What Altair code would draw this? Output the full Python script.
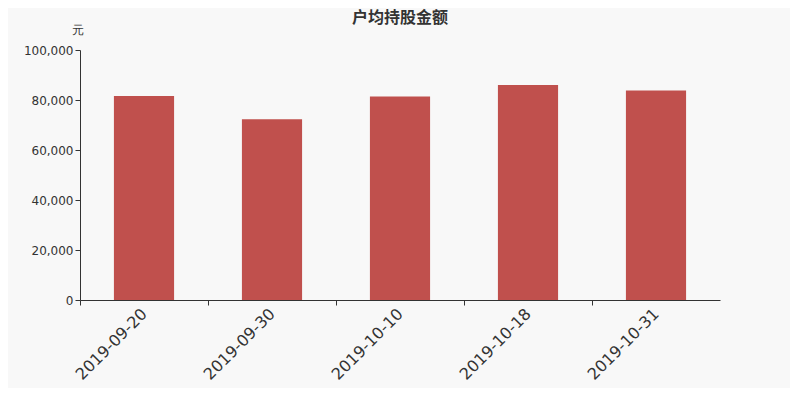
import altair as alt
import pandas as pd

dates = ["2019-09-20", "2019-09-30", "2019-10-10", "2019-10-18", "2019-10-31"]
values = [81600, 72300, 81400, 86000, 83800]

df = pd.DataFrame({"date": dates, "value": values})

chart = alt.Chart(df).mark_bar(color="#c0504d").encode(
    x=alt.X("date:N", sort=dates,
            scale=alt.Scale(paddingInner=0.53, paddingOuter=0.265),
            axis=alt.Axis(title=None, labelAngle=-45, labelFontSize=16,
                          labelColor="#333333", labelFont="DejaVu Sans",
                          labelAlign="right", labelBaseline="middle",
                          labelPadding=6,
                          tickOffset=-64, labelOffset=64,
                          tickSize=5, tickColor="#333333",
                          domainColor="#333333")),
    y=alt.Y("value:Q", scale=alt.Scale(domain=[0, 100000]),
            axis=alt.Axis(title="元", titleAngle=0, titleX=-3, titleY=-21,
                          titleAlign="center", titleBaseline="middle",
                          titleFontSize=12, titleFontWeight="normal",
                          titleColor="#333333", titleFont="DejaVu Sans",
                          values=[0, 20000, 40000, 60000, 80000, 100000],
                          format=",d", labelFontSize=12, labelColor="#333333",
                          labelFont="DejaVu Sans", grid=False,
                          tickSize=5, tickColor="#333333",
                          domainColor="#333333")),
).properties(
    width=640, height=250,
    title=alt.TitleParams("户均持股金额", anchor="middle", fontSize=16,
                          fontWeight="bold", color="#333333",
                          font="Noto Sans CJK SC", offset=-3),
    padding={"left": 72, "top": 42, "right": 70, "bottom": 88},
    autosize=alt.AutoSizeParams(type="none"),
    background="#f8f8f8",
).configure_view(stroke=None)

chart.save("out.html", embed_options={"renderer": "svg", "actions": False})
